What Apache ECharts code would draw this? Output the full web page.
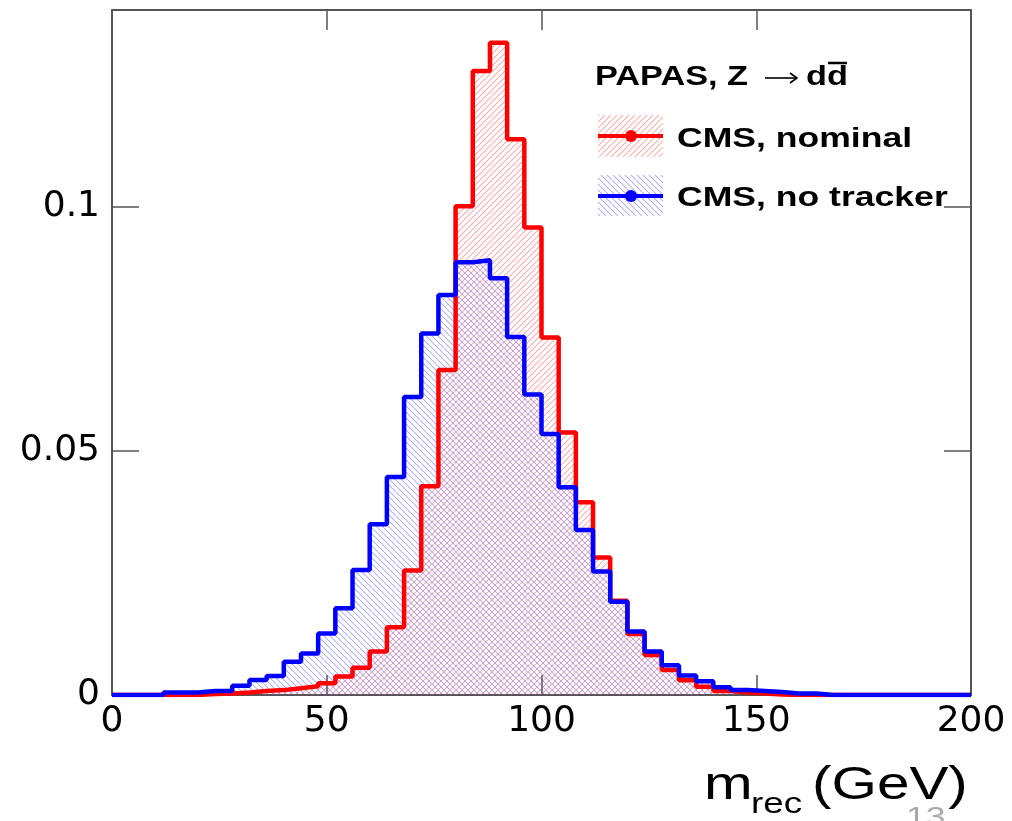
<!DOCTYPE html>
<html>
<head>
<meta charset="utf-8">
<script src="https://cdn.jsdelivr.net/npm/echarts@6/dist/echarts.min.js"></script>
<style>
  html, body { margin: 0; padding: 0; background: #fff; }
  #chart { width: 1012px; height: 821px; }
</style>
</head>
<body>
<div id="chart"></div>
<script>
// histogram bins: 0..200 GeV, 4 GeV wide
var binStart = 0;
var binWidth = 4;
var xTicks = [0, 50, 100, 150, 200];
var yTicks = [0, 0.05, 0.1];

// CMS, nominal
var nominal = [
    0, 0, 0, 0, 0, 0.0002, 0.0003, 0.0005, 0.0008, 0.0010,
    0.0014, 0.0018, 0.0024, 0.0038, 0.0056, 0.0089, 0.0139, 0.0255, 0.0428, 0.0666,
    0.1002, 0.1279, 0.1337, 0.1139, 0.0958, 0.0733, 0.0538, 0.0395, 0.0282, 0.0193,
    0.0125, 0.0082, 0.0051, 0.0030, 0.0017, 0.0008, 0.0005, 0.0003, 0.0001, 0,
    0, 0, 0, 0, 0, 0, 0, 0, 0, 0
];
// CMS, no tracker
var noTracker = [
    0, 0, 0, 0.0005, 0.0005, 0.0008, 0.0008, 0.0019, 0.0031, 0.0039,
    0.0068, 0.0085, 0.0126, 0.0178, 0.0256, 0.0350, 0.0447, 0.0611, 0.0741, 0.0820,
    0.0887, 0.0891, 0.0854, 0.0734, 0.0616, 0.0535, 0.0426, 0.0338, 0.0253, 0.0191,
    0.0130, 0.0089, 0.0061, 0.0040, 0.0028, 0.0016, 0.0010, 0.0008, 0.0006, 0.0003,
    0.0003, 0, 0, 0, 0, 0, 0, 0, 0, 0
];

function steps(vals) {
    var d = vals.map(function (v, i) { return [binStart + i * binWidth, v]; });
    d.push([binStart + vals.length * binWidth, vals[vals.length - 1]]);
    return d;
}

// hatch pattern, dir 1 = '/', -1 = '\'
function hatch(color, dir) {
    var c = document.createElement('canvas');
    c.width = 6; c.height = 6;
    var g = c.getContext('2d');
    g.strokeStyle = color;
    g.lineWidth = 1.1;
    g.beginPath();
    for (var k = -1; k <= 1; k++) {
        if (dir > 0) { g.moveTo(k * 6, 6); g.lineTo(k * 6 + 6, 0); }
        else { g.moveTo(k * 6, 0); g.lineTo(k * 6 + 6, 6); }
    }
    g.stroke();
    return { image: c, repeat: 'repeat' };
}

var redHatch = hatch('rgba(255,70,70,0.45)', 1);
var blueHatch = hatch('rgba(70,70,255,0.42)', -1);

var axisCol = '#555';
var lblFont = { fontFamily: 'DejaVu Sans', fontSize: 36, color: '#000' };
var sx = 1.27;

function frameAxis(pos, isX) {
    return {
        type: 'value', position: pos,
        min: isX ? xTicks[0] : yTicks[0],
        max: isX ? xTicks[xTicks.length - 1] : 0.1404,
        interval: isX ? 50 : 0.05,
        axisLine: { show: true, onZero: false, lineStyle: { color: axisCol, width: 2 } },
        axisTick: { show: true, inside: true, length: isX ? 20 : 27, lineStyle: { color: axisCol, width: 1.5 } },
        axisLabel: { show: false },
        splitLine: { show: false }
    };
}

var myChart = echarts.init(document.getElementById('chart'));

var xMain = frameAxis('bottom', true);
xMain.axisLabel = Object.assign({ show: true, margin: 9 }, lblFont);
var yMain = frameAxis('left', false);
yMain.axisLabel = Object.assign({ show: true, margin: 12, showMaxLabel: false }, lblFont);

option = {
    animation: false,
    backgroundColor: '#fff',
    grid: { left: 112, right: 41, top: 10, bottom: 126 },
    xAxis: [xMain, frameAxis('top', true)],
    yAxis: [yMain, frameAxis('right', false)],
    series: [
        {
            name: 'CMS, nominal',
            type: 'line', step: 'end', symbol: 'none',
            xAxisIndex: 0, yAxisIndex: 0,
            lineStyle: { color: '#ff0000', width: 4.5 },
            areaStyle: { color: redHatch, opacity: 1 },
            data: steps(nominal)
        },
        {
            name: 'CMS, no tracker',
            type: 'line', step: 'end', symbol: 'none',
            xAxisIndex: 0, yAxisIndex: 0,
            lineStyle: { color: '#0000ff', width: 4.5 },
            areaStyle: { color: blueHatch, opacity: 1 },
            data: steps(noTracker)
        }
    ],
    graphic: [
        // legend
        { type: 'text', x: 595, y: 78, scaleX: sx, style: { text: 'PAPAS, Z', font: 'bold 27px "Liberation Sans"', fill: '#000', verticalAlign: 'middle' } },
        { type: 'line', shape: { x1: 765, y1: 78, x2: 797, y2: 78 }, style: { stroke: '#000', lineWidth: 1.6 } },
        { type: 'polyline', shape: { points: [[790, 73], [797, 78], [790, 83]] }, style: { stroke: '#000', lineWidth: 1.6, fill: null } },
        { type: 'text', x: 806, y: 78, scaleX: sx, style: { text: 'dd', font: 'bold 27px "Liberation Sans"', fill: '#000', verticalAlign: 'middle' } },
        { type: 'line', shape: { x1: 828, y1: 63, x2: 847, y2: 63 }, style: { stroke: '#000', lineWidth: 2.5 } },

        { type: 'rect', shape: { x: 598, y: 115, width: 65, height: 42 }, style: { fill: redHatch } },
        { type: 'line', shape: { x1: 598, y1: 136, x2: 663, y2: 136 }, style: { stroke: '#ff0000', lineWidth: 4 } },
        { type: 'circle', shape: { cx: 631, cy: 136, r: 6 }, style: { fill: '#ff0000' } },
        { type: 'text', x: 677, y: 139, scaleX: sx, style: { text: 'CMS, nominal', font: 'bold 28px "Liberation Sans"', fill: '#000', verticalAlign: 'middle' } },

        { type: 'rect', shape: { x: 598, y: 175, width: 65, height: 41 }, style: { fill: blueHatch } },
        { type: 'line', shape: { x1: 598, y1: 196, x2: 663, y2: 196 }, style: { stroke: '#0000ff', lineWidth: 4 } },
        { type: 'circle', shape: { cx: 631, cy: 196, r: 6 }, style: { fill: '#0000ff' } },
        { type: 'text', x: 677, y: 198, scaleX: sx, style: { text: 'CMS, no tracker', font: 'bold 28px "Liberation Sans"', fill: '#000', verticalAlign: 'middle' } },

        // x axis title
        { type: 'text', x: 704, y: 786, scaleX: sx, style: { text: 'm', font: '46px "Liberation Sans"', fill: '#000', verticalAlign: 'middle' } },
        { type: 'text', x: 751, y: 805, scaleX: sx, style: { text: 'rec', font: '29px "Liberation Sans"', fill: '#000', verticalAlign: 'middle' } },
        { type: 'text', x: 812, y: 786, scaleX: sx, style: { text: '(GeV)', font: '46px "Liberation Sans"', fill: '#000', verticalAlign: 'middle' } },

        // page number
        { type: 'text', x: 906, y: 804, scaleX: sx, style: { text: '13', font: '28px "Liberation Sans"', fill: '#aaa', verticalAlign: 'top' } }
    ]
};

myChart.setOption(option);
</script>
</body>
</html>
